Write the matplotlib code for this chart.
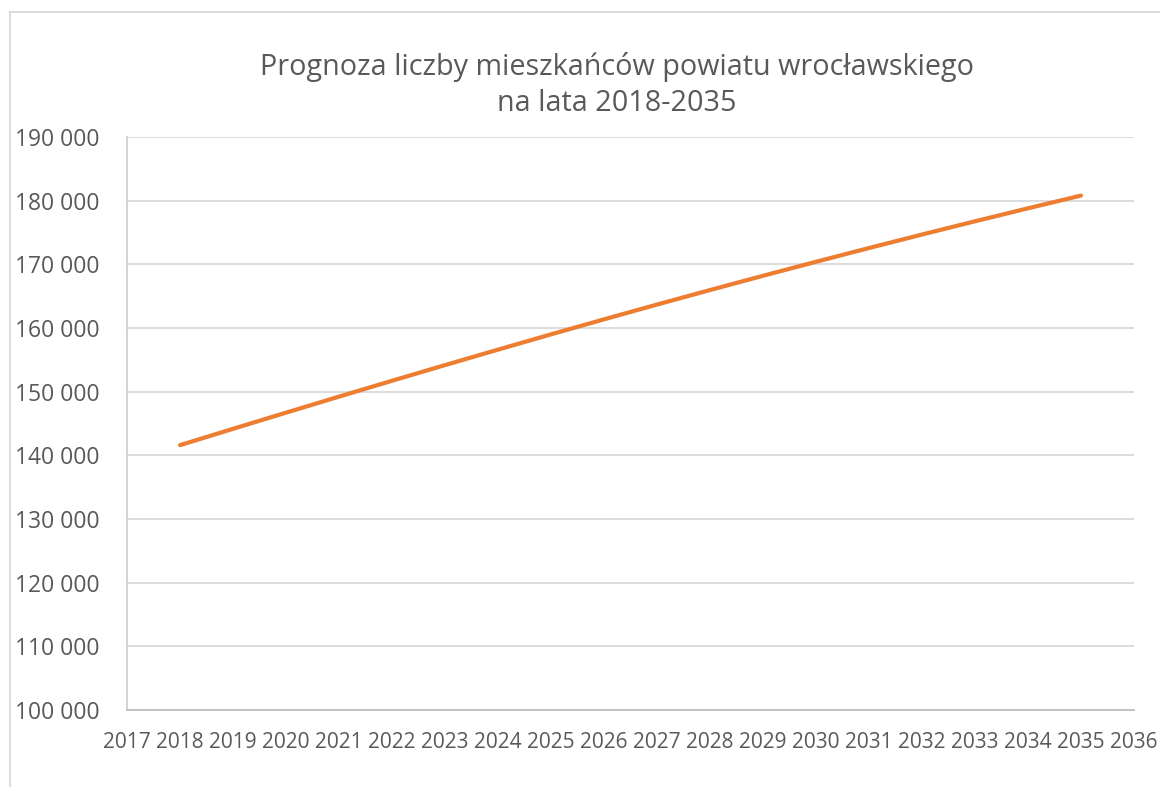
import matplotlib
matplotlib.use("Agg")
import matplotlib.pyplot as plt
from matplotlib.lines import Line2D
from matplotlib.ticker import FuncFormatter, MultipleLocator

# prognoza liczby mieszkancow
years = [2018, 2019, 2020, 2021, 2022, 2023, 2024, 2025, 2026,
         2027, 2028, 2029, 2030, 2031, 2032, 2033, 2034, 2035]
population = [141600, 144160, 146700, 149220, 151710, 154170, 156600, 159000, 161360,
              163680, 165960, 168200, 170400, 172560, 174680, 176760, 178800, 180800]

TITLE = "Prognoza liczby mieszkańców powiatu wrocławskiego\nna lata 2018-2035"
TEXT = "#595959"
ORANGE = "#ED7D31"
GRID = "#d9d9d9"

plt.rcParams["font.family"] = ["Open Sans", "DejaVu Sans"]

W, H = 1160, 787
fig = plt.figure(figsize=(W / 100, H / 100), dpi=100)
ax = fig.add_axes([127 / W, 1 - 710 / H, (1134 - 127) / W, (710 - 137) / H])

ax.plot(years, population, color=ORANGE, lw=3.0, solid_capstyle="round", zorder=3)

ax.set_xlim(2017, 2036)
ax.set_ylim(100000, 190000)
ax.xaxis.set_major_locator(MultipleLocator(1))
ax.yaxis.set_major_locator(MultipleLocator(10000))
ax.yaxis.set_major_formatter(FuncFormatter(lambda v, _: f"{int(v):,}".replace(",", " ")))

ax.grid(axis="y", color=GRID, lw=1.3)
ax.set_axisbelow(True)
for side in ("top", "right"):
    ax.spines[side].set_visible(False)
ax.spines["left"].set_color("#d0d0d0")
ax.spines["left"].set_linewidth(1.3)
ax.spines["bottom"].set_color("#bfbfbf")
ax.spines["bottom"].set_linewidth(1.3)

ax.tick_params(axis="both", length=0, colors=TEXT)
ax.tick_params(axis="y", labelsize=16.5, pad=20)
ax.tick_params(axis="x", labelsize=15, pad=16)

fig.text(616.5 / W, 1 - 85 / H, TITLE, ha="center", va="center",
         fontsize=20.7, color=TEXT, linespacing=1.33)

# ramka obszaru wykresu
fig.add_artist(Line2D([10 / W, 10 / W], [0, 1 - 12 / H], color=GRID, lw=1.3))
fig.add_artist(Line2D([10 / W, 1], [1 - 12 / H, 1 - 12 / H], color=GRID, lw=1.3))

fig.savefig("out.png", dpi=100)
